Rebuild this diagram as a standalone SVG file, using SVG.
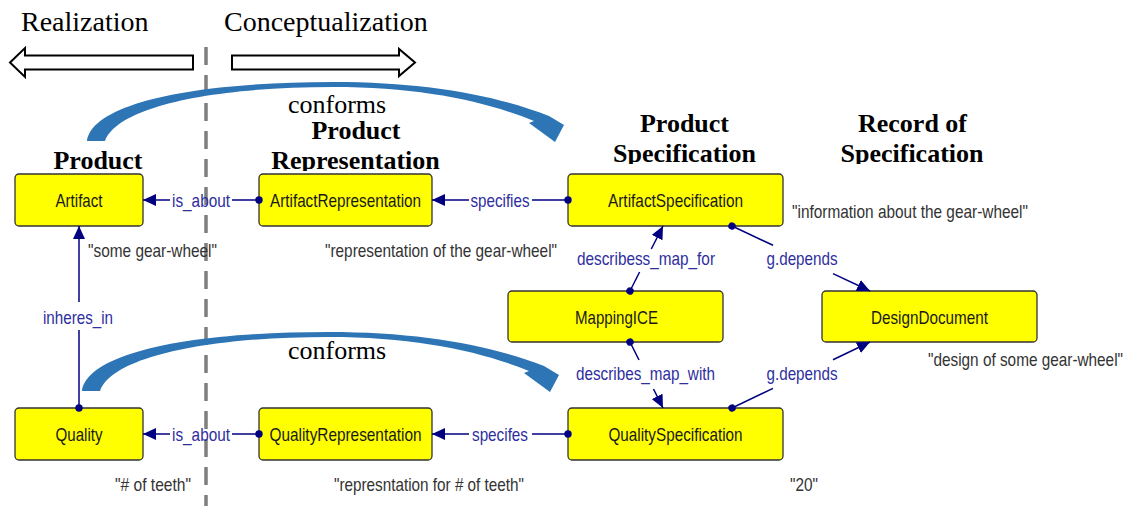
<svg xmlns="http://www.w3.org/2000/svg" xmlns:xlink="http://www.w3.org/1999/xlink" width="1130" height="506" viewBox="0 0 1130 506">
<style>
.box{fill:#ffff00;stroke:#333;stroke-width:1.3}
.nt{font-family:"Liberation Sans Narrow","Arial Narrow","Liberation Sans",sans-serif;font-size:18.5px;fill:#1a1a1a;text-anchor:middle}
.el{font-family:"Liberation Sans Narrow","Arial Narrow","Liberation Sans",sans-serif;font-size:18.5px;fill:#2e2e9e;text-anchor:middle}
.dt{font-family:"Liberation Sans Narrow","Arial Narrow","Liberation Sans",sans-serif;font-size:18.5px;fill:#333}
.hd{font-family:"Liberation Serif","Times New Roman",serif;font-size:26px;font-weight:bold;fill:#000;text-anchor:middle}
.tt{font-family:"Liberation Serif","Times New Roman",serif;font-size:28px;fill:#000}
.cf{font-family:"Liberation Serif","Times New Roman",serif;font-size:26px;fill:#000}
.ln{stroke:#000080;stroke-width:1.5;fill:none}
.hol{fill:#fff;stroke:#000;stroke-width:2}
.arc{fill:#2e75b6}
</style>
<defs>
<marker id="arr" viewBox="0 0 13 12" refX="13" refY="6" markerWidth="13" markerHeight="12" markerUnits="userSpaceOnUse" orient="auto"><path d="M0,0 L13,6 L0,12 Z" fill="#000080"/></marker>
<marker id="dot" viewBox="0 0 8 8" refX="4" refY="4" markerWidth="8" markerHeight="8" markerUnits="userSpaceOnUse" orient="auto"><circle cx="4" cy="4" r="3.7" fill="#000080"/></marker>
<clipPath id="clipL"><rect x="0" y="0" width="460" height="171"/></clipPath>
<clipPath id="clipR"><rect x="560" y="0" width="500" height="164"/></clipPath>
<path id="conf" d="M87,141 C92,104 190,82 333,82 C425,82 495,95 549,116 L564,125 L555,142 L529,123 L534,121 C485,101 420,87 333,87 C215,87 118,106 105,141 Z"/>
</defs>

<g id="titles">
<text class="tt" x="21" y="31">Realization</text>
<text class="tt" x="224" y="31">Conceptualization</text>
<path class="hol" d="M193,55.5 L25,55.5 L25,48 L10,62.5 L25,77 L25,69.5 L193,69.5 Z"/>
<path class="hol" d="M232,55.5 L399,55.5 L399,49 L415,62.5 L399,76 L399,69.5 L232,69.5 Z"/>
<line x1="206" y1="47" x2="206" y2="506" stroke="#7f7f7f" stroke-width="3.5" stroke-dasharray="18 10"/>
</g>

<g id="headers">
<text class="hd" x="98" y="169" clip-path="url(#clipL)">Product</text>
<text class="hd" x="356" y="139" clip-path="url(#clipL)">Product</text>
<text class="hd" x="355.5" y="169" clip-path="url(#clipL)">Representation</text>
<text class="hd" x="684.5" y="132" clip-path="url(#clipR)">Product</text>
<text class="hd" x="684.5" y="162" clip-path="url(#clipR)">Specification</text>
<text class="hd" x="912.5" y="132" clip-path="url(#clipR)">Record of</text>
<text class="hd" x="912" y="162" clip-path="url(#clipR)">Specification</text>
</g>

<g id="conforms-arrows">
<use href="#conf" xlink:href="#conf" class="arc"/>
<use href="#conf" xlink:href="#conf" class="arc" transform="translate(-5,250)"/>
<text class="cf" x="288" y="113">conforms</text>
<text class="cf" x="288" y="359">conforms</text>
</g>

<g id="Artifact"><rect class="box" x="15" y="174" width="128" height="52" rx="4"/><text class="nt" x="79" y="207" textLength="47" lengthAdjust="spacingAndGlyphs">Artifact</text></g>
<g id="ArtifactRepresentation"><rect class="box" x="259" y="174" width="173" height="52" rx="4"/><text class="nt" x="345.5" y="207" textLength="151" lengthAdjust="spacingAndGlyphs">ArtifactRepresentation</text></g>
<g id="ArtifactSpecification"><rect class="box" x="568" y="174" width="215" height="52" rx="4"/><text class="nt" x="675.5" y="207" textLength="135" lengthAdjust="spacingAndGlyphs">ArtifactSpecification</text></g>
<g id="MappingICE"><rect class="box" x="508" y="291" width="215" height="51" rx="4"/><text class="nt" x="616.5" y="324" textLength="83" lengthAdjust="spacingAndGlyphs">MappingICE</text></g>
<g id="DesignDocument"><rect class="box" x="822" y="291" width="215" height="51" rx="4"/><text class="nt" x="929.5" y="324" textLength="117" lengthAdjust="spacingAndGlyphs">DesignDocument</text></g>
<g id="Quality"><rect class="box" x="15" y="408" width="128" height="52" rx="4"/><text class="nt" x="79" y="441" textLength="47" lengthAdjust="spacingAndGlyphs">Quality</text></g>
<g id="QualityRepresentation"><rect class="box" x="259" y="408" width="173" height="52" rx="4"/><text class="nt" x="345.5" y="441" textLength="152" lengthAdjust="spacingAndGlyphs">QualityRepresentation</text></g>
<g id="QualitySpecification"><rect class="box" x="568" y="408" width="215" height="52" rx="4"/><text class="nt" x="675.5" y="441" textLength="134" lengthAdjust="spacingAndGlyphs">QualitySpecification</text></g>

<g id="connectors">
<line class="ln" x1="259" y1="200" x2="232" y2="200" marker-start="url(#dot)"/>
<line class="ln" x1="170" y1="200" x2="143" y2="200" marker-end="url(#arr)"/>
<text class="el" x="201" y="207" textLength="58" lengthAdjust="spacingAndGlyphs">is_about</text>
<line class="ln" x1="568" y1="200" x2="532" y2="200" marker-start="url(#dot)"/>
<line class="ln" x1="469" y1="200" x2="432" y2="200" marker-end="url(#arr)"/>
<text class="el" x="500" y="207" textLength="59" lengthAdjust="spacingAndGlyphs">specifies</text>
<line class="ln" x1="79" y1="408" x2="79" y2="330" marker-start="url(#dot)"/>
<line class="ln" x1="79" y1="302" x2="79" y2="226" marker-end="url(#arr)"/>
<text class="el" x="78" y="324" textLength="70" lengthAdjust="spacingAndGlyphs">inheres_in</text>
<line class="ln" x1="259" y1="434" x2="232" y2="434" marker-start="url(#dot)"/>
<line class="ln" x1="170" y1="434" x2="143" y2="434" marker-end="url(#arr)"/>
<text class="el" x="201" y="441" textLength="58" lengthAdjust="spacingAndGlyphs">is_about</text>
<line class="ln" x1="568" y1="434" x2="532" y2="434" marker-start="url(#dot)"/>
<line class="ln" x1="469" y1="434" x2="432" y2="434" marker-end="url(#arr)"/>
<text class="el" x="500" y="441" textLength="56" lengthAdjust="spacingAndGlyphs">specifes</text>
<line class="ln" x1="630" y1="291" x2="639.6" y2="272" marker-start="url(#dot)"/>
<line class="ln" x1="651.3" y1="249" x2="663" y2="226" marker-end="url(#arr)"/>
<text class="el" x="646" y="265" textLength="138" lengthAdjust="spacingAndGlyphs">describess_map_for</text>
<line class="ln" x1="732" y1="226" x2="773" y2="245.3" marker-start="url(#dot)"/>
<line class="ln" x1="833" y1="273.6" x2="870" y2="291" marker-end="url(#arr)"/>
<text class="el" x="802" y="265" textLength="71" lengthAdjust="spacingAndGlyphs">g.depends</text>
<line class="ln" x1="630" y1="342" x2="639" y2="360" marker-start="url(#dot)"/>
<line class="ln" x1="653.5" y1="389" x2="663" y2="408" marker-end="url(#arr)"/>
<text class="el" x="645.5" y="380" textLength="139" lengthAdjust="spacingAndGlyphs">describes_map_with</text>
<line class="ln" x1="732" y1="408" x2="773" y2="388.4" marker-start="url(#dot)"/>
<line class="ln" x1="833" y1="359.7" x2="870" y2="342" marker-end="url(#arr)"/>
<text class="el" x="802" y="380" textLength="71" lengthAdjust="spacingAndGlyphs">g.depends</text>
</g>

<g id="values">
<text class="dt" x="88" y="257" textLength="129" lengthAdjust="spacingAndGlyphs">"some gear-wheel"</text>
<text class="dt" x="325" y="257" textLength="232" lengthAdjust="spacingAndGlyphs">"representation of the gear-wheel"</text>
<text class="dt" x="792" y="218" textLength="236" lengthAdjust="spacingAndGlyphs">"information about the gear-wheel"</text>
<text class="dt" x="928" y="366" textLength="195" lengthAdjust="spacingAndGlyphs">"design of some gear-wheel"</text>
<text class="dt" x="115" y="491" textLength="76" lengthAdjust="spacingAndGlyphs">"# of teeth"</text>
<text class="dt" x="334" y="491" textLength="190" lengthAdjust="spacingAndGlyphs">"represntation for # of teeth"</text>
<text class="dt" x="790" y="491" textLength="28" lengthAdjust="spacingAndGlyphs">"20"</text>
</g>
</svg>
